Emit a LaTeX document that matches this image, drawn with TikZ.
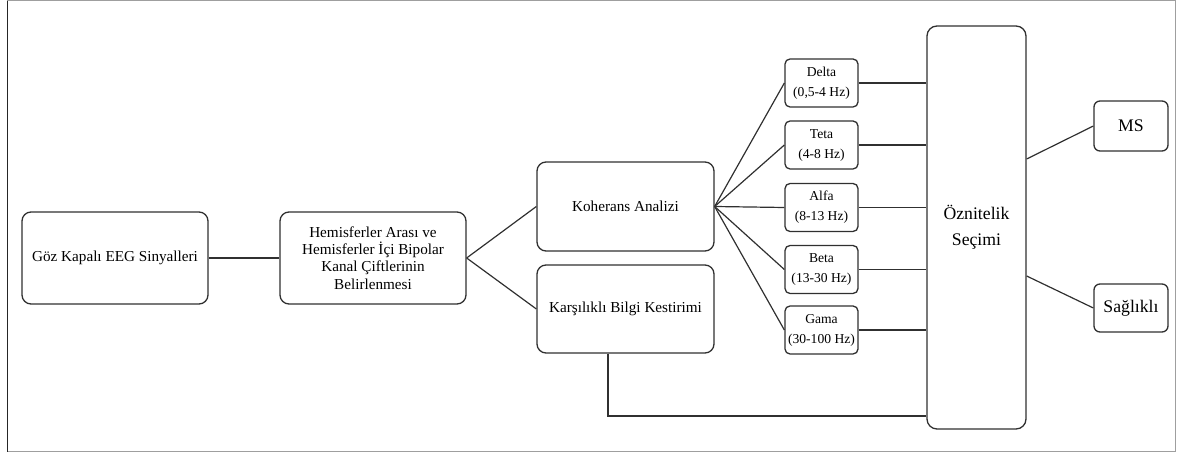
\documentclass[tikz,border=0pt]{standalone}
\usepackage{fontspec}
\setmainfont{Liberation Serif}
\usetikzlibrary{positioning}
\definecolor{ln}{HTML}{303030}
\tikzset{
  x=1pt,y=1pt,
  box/.style={draw=ln, line width=1.3pt, rounded corners=9pt, inner sep=0pt, align=center,
     font=\fontsize{15.2}{17.3}\selectfont, text=black},
  band/.style={box, rounded corners=5pt, font=\fontsize{13.6}{20}\selectfont},
  big/.style={box, font=\fontsize{17.7}{26}\selectfont},
  conn/.style={draw=ln, line width=1.2pt},
}
\begin{document}
\begin{tikzpicture}
\useasboundingbox (0,0) rectangle (1179,455);
\draw[gray!75, line width=1pt] (7,3) rectangle (1175,454);
\draw[black!85, line width=1pt] (7,3) -- (7,454);

\node[box, minimum width=186, minimum height=92] (goz) at (115,197) {Göz Kapalı EEG Sinyalleri};
\node[box, minimum width=186, minimum height=92] (hem) at (373,197) {Hemisferler Arası ve\\Hemisferler İçi Bipolar\\Kanal Çiftlerinin\\Belirlenmesi};
\node[box, minimum width=177, minimum height=89] (koh) at (625.5,248.5) {Koherans Analizi};
\node[box, minimum width=177, minimum height=88] (kar) at (625.5,146) {Karşılıklı Bilgi Kestirimi};

\node[band, minimum width=73, minimum height=48] (delta) at (821.5,372) {Delta\\(0,5-4 Hz)};
\node[band, minimum width=73, minimum height=48] (teta) at (821.5,310) {Teta\\(4-8 Hz)};
\node[band, minimum width=73, minimum height=48] (alfa) at (821.5,247.5) {Alfa\\(8-13 Hz)};
\node[band, minimum width=73, minimum height=48] (beta) at (821.5,185.5) {Beta\\(13-30 Hz)};
\node[band, minimum width=73, minimum height=48] (gama) at (821.5,125) {Gama\\(30-100 Hz)};

\node[big, minimum width=99, minimum height=403, rounded corners=10pt] (oz) at (976.5,227.5) {Öznitelik\\Seçimi};
\node[big, minimum width=74, minimum height=50, rounded corners=6pt] (ms) at (1131,329) {MS};
\node[big, minimum width=74, minimum height=48, rounded corners=6pt] (sag) at (1131,147) {Sağlıklı};

\path[conn] (goz.east) -- (hem.west);
\path[conn] (hem.east) -- (koh.west);
\path[conn] (hem.east) -- (kar.west);
\foreach \b in {delta,teta,alfa,beta,gama}{
  \path[conn] (koh.east) -- (\b.west);
  \path[conn] (\b.east) -- (\b.east -| oz.west);
}
\path[conn] ([yshift=68.5pt]oz.east) -- (ms.west);
\path[conn] ([yshift=-48.5pt]oz.east) -- (sag.west);
\coordinate (ozb) at ([yshift=-188.5pt]oz.west);
\path[conn] ([xshift=-17.5pt]kar.south) |- (ozb);
\end{tikzpicture}
\end{document}
